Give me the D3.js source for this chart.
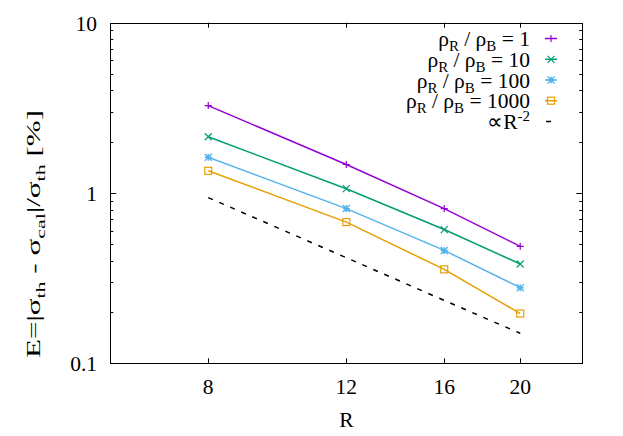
<!DOCTYPE html>
<meta charset="utf-8">
<script src="https://d3js.org/d3.v7.min.js"></script>
<style>
  body { margin: 0; background: #fff; }
</style>
<body>
<script>

// data
var radii = [8, 12, 16, 20];
var ratio1 = [3.26, 1.47, 0.81, 0.486];
var ratio10 = [2.14, 1.06, 0.61, 0.383];
var ratio100 = [1.62, 0.81, 0.46, 0.278];
var ratio1000 = [1.35, 0.675, 0.356, 0.196];
var slopeRef = [0.94, 0.417, 0.234, 0.15];
var xTicks = [8, 12, 16, 20];
var yTicks = [0.1, 1, 10];
var legendValues = ["1", "10", "100", "1000"];

var width = 623, height = 436;
var plotL = 110.3, plotR = 582.3, plotT = 22.7, plotB = 363.3;
var fs = 21.5, fsSub = 15;

var svg = d3.select("body").append("svg")
    .attr("width", width)
    .attr("height", height)
    .attr("font-family", "Liberation Serif");

var x = d3.scaleLog().domain([6, 24]).range([plotL, plotR]);
var y = d3.scaleLog().domain([0.1, 10]).range([plotB, plotT]);

var series = [
  {values: ratio1, color: "#9400d3", marker: "plus"},
  {values: ratio10, color: "#009e73", marker: "cross"},
  {values: ratio100, color: "#56b4e9", marker: "star"},
  {values: ratio1000, color: "#e69f00", marker: "square"}
];

// ticks
var g = svg.append("g").attr("stroke", "#000").attr("stroke-width", 1);
xTicks.forEach(function(t) {
  var px = Math.round(x(t)) + 0.5;
  g.append("line").attr("x1", px).attr("x2", px).attr("y1", plotB).attr("y2", plotB - 5);
  g.append("line").attr("x1", px).attr("x2", px).attr("y1", plotT).attr("y2", plotT + 5);
});
var minor = [];
[0.1, 1].forEach(function(d) { for (var k = 2; k <= 9; k++) minor.push(d * k); });
minor.forEach(function(t) {
  var py = Math.round(y(t)) + 0.5;
  g.append("line").attr("x1", plotL).attr("x2", plotL + 3).attr("y1", py).attr("y2", py);
  g.append("line").attr("x1", plotR).attr("x2", plotR - 3).attr("y1", py).attr("y2", py);
});
yTicks.forEach(function(t) {
  var py = Math.round(y(t)) + 0.5;
  g.append("line").attr("x1", plotL).attr("x2", plotL + 6).attr("y1", py).attr("y2", py);
  g.append("line").attr("x1", plotR).attr("x2", plotR - 6).attr("y1", py).attr("y2", py);
});

// border
svg.append("rect")
    .attr("x", Math.round(plotL) + 0.5).attr("y", Math.round(plotT) + 0.5)
    .attr("width", Math.round(plotR) - Math.round(plotL))
    .attr("height", Math.round(plotB) - Math.round(plotT))
    .attr("fill", "none").attr("stroke", "#000").attr("stroke-width", 1);

// tick labels
xTicks.forEach(function(t) {
  svg.append("text").attr("x", x(t)).attr("y", 394)
      .attr("text-anchor", "middle").attr("font-size", fs).text(t);
});
yTicks.forEach(function(t) {
  svg.append("text").attr("x", 97).attr("y", y(t) + 8)
      .attr("text-anchor", "end").attr("font-size", fs).text(t);
});

// axis titles
svg.append("text").attr("x", (plotL + plotR) / 2).attr("y", 427)
    .attr("text-anchor", "middle").attr("font-size", fs).text("R");

// y label: the original's glyphs are wide, so stretch it to the same length
var yl = svg.append("text")
    .attr("transform", "translate(40,234) rotate(-90)")
    .attr("x", -124)
    .attr("font-size", 19)
    .attr("textLength", 248)
    .attr("lengthAdjust", "spacingAndGlyphs");
yl.append("tspan").text("E=|σ");
yl.append("tspan").attr("baseline-shift", "-5").attr("font-size", 13.5).text("th");
yl.append("tspan").text(" - σ");
yl.append("tspan").attr("baseline-shift", "-5").attr("font-size", 13.5).text("cal");
yl.append("tspan").text("|/σ");
yl.append("tspan").attr("baseline-shift", "-5").attr("font-size", 13.5).text("th");
yl.append("tspan").text(" [%]");

// markers
function drawMarker(sel, type, cx, cy, color) {
  var s = 3.5;
  if (type === "plus") {
    sel.append("path").attr("d", "M" + (cx - s) + "," + cy + "H" + (cx + s) + "M" + cx + "," + (cy - s) + "V" + (cy + s))
        .attr("stroke", color).attr("stroke-width", 1.2).attr("fill", "none");
  } else if (type === "cross") {
    sel.append("path").attr("d", "M" + (cx - s) + "," + (cy - s) + "L" + (cx + s) + "," + (cy + s) + "M" + (cx - s) + "," + (cy + s) + "L" + (cx + s) + "," + (cy - s))
        .attr("stroke", color).attr("stroke-width", 1.2).attr("fill", "none");
  } else if (type === "star") {
    sel.append("path").attr("d", "M" + (cx - s) + "," + cy + "H" + (cx + s) + "M" + cx + "," + (cy - s) + "V" + (cy + s) +
        "M" + (cx - s) + "," + (cy - s) + "L" + (cx + s) + "," + (cy + s) + "M" + (cx - s) + "," + (cy + s) + "L" + (cx + s) + "," + (cy - s))
        .attr("stroke", color).attr("stroke-width", 1.4).attr("fill", "none");
  } else {
    sel.append("rect").attr("x", cx - s).attr("y", cy - s).attr("width", 2 * s).attr("height", 2 * s)
        .attr("stroke", color).attr("stroke-width", 1.2).attr("fill", "none");
  }
}

var line = d3.line().x(function(d) { return x(d[0]); }).y(function(d) { return y(d[1]); });

// dashed reference
svg.append("path")
    .datum(d3.zip(radii, slopeRef))
    .attr("d", line)
    .attr("fill", "none").attr("stroke", "#000").attr("stroke-width", 1.5)
    .attr("stroke-dasharray", "5,7");

series.forEach(function(s) {
  var pts = d3.zip(radii, s.values);
  svg.append("path").datum(pts).attr("d", line)
      .attr("fill", "none").attr("stroke", s.color).attr("stroke-width", 1.5);
  pts.forEach(function(p) { drawMarker(svg, s.marker, x(p[0]), y(p[1]), s.color); });
});

// legend
var legY = [38.5, 59.3, 80, 100.7];
series.forEach(function(s, i) {
  var t = svg.append("text").attr("x", 530).attr("y", legY[i] + 7.5)
      .attr("text-anchor", "end").attr("font-size", fs);
  t.append("tspan").text("ρ");
  t.append("tspan").attr("baseline-shift", "-5").attr("font-size", fsSub).text("R");
  t.append("tspan").text(" / ρ");
  t.append("tspan").attr("baseline-shift", "-5").attr("font-size", fsSub).text("B");
  t.append("tspan").text(" = " + legendValues[i]);
  svg.append("line").attr("x1", 545).attr("x2", 557).attr("y1", legY[i]).attr("y2", legY[i])
      .attr("stroke", s.color).attr("stroke-width", 1.5);
  drawMarker(svg, s.marker, 551, legY[i], s.color);
});
var rt = svg.append("text").attr("x", 530).attr("y", 129)
    .attr("text-anchor", "end").attr("font-size", fs);
rt.append("tspan").text("∝R");
rt.append("tspan").attr("baseline-shift", "8").attr("font-size", fsSub).text("-2");
svg.append("line").attr("x1", 546).attr("x2", 551).attr("y1", 121.5).attr("y2", 121.5)
    .attr("stroke", "#000").attr("stroke-width", 1.5);

</script>
</body>
